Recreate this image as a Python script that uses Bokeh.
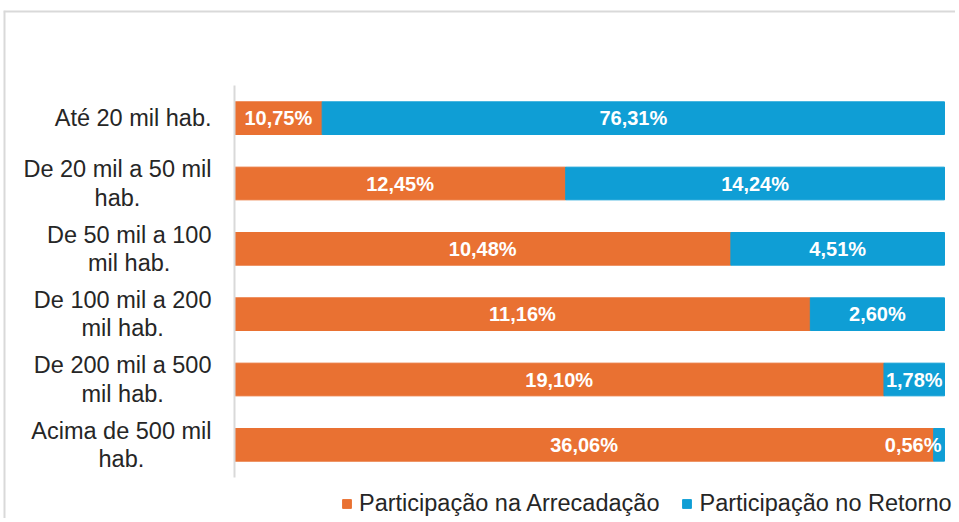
from bokeh.plotting import figure
from bokeh.models import ColumnDataSource, Range1d, Legend, LegendItem, Span
from bokeh.core.properties import value
from bokeh.embed import file_html
from bokeh.resources import INLINE

categories = ["Até 20 mil hab.", "De 20 mil a 50 mil\nhab.", "De 50 mil a 100\nmil hab.",
              "De 100 mil a 200\nmil hab.", "De 200 mil a 500\nmil hab.", "Acima de 500 mil\nhab."]
arrecadacao = [10.75, 12.45, 10.48, 11.16, 19.10, 36.06]
retorno = [76.31, 14.24, 4.51, 2.60, 1.78, 0.56]
series_names = ["Participação na Arrecadação", "Participação no Retorno"]
colors = ["#E97132", "#0F9ED5"]

FONT = "Liberation Sans"
TEXT_COLOR = "#262626"

# layout (pixels)
W, H = 955, 518
FRAME_L, FRAME_T = 3, 10
BAR_X0, BAR_X1 = 234, 944
BAND_T, BAND_B = 85, 477
n = len(categories)
bw = (BAR_X1 - BAR_X0)
bh = (BAND_B - BAND_T) / n

x_start = (FRAME_L - BAR_X0) / bw
x_end = 1 + (W - BAR_X1) / bw
y_top = (FRAME_T - BAND_T) / bh - 0.5
y_bot = (H - BAND_T) / bh - 0.5

tot = [a + r for a, r in zip(arrecadacao, retorno)]
fa = [a / t for a, t in zip(arrecadacao, tot)]
fr = [r / t for r, t in zip(retorno, tot)]
ypos = list(range(n))

def fmt(v):
    return f"{v:.2f}%".replace(".", ",")

src = ColumnDataSource(dict(y=ypos, cat=categories, zero=[0.0] * n, fa=fa, one=[1.0] * n))

p = figure(width=W, height=H, output_backend="svg", toolbar_location=None,
           x_range=Range1d(x_start, x_end), y_range=Range1d(y_bot, y_top),
           min_border_left=FRAME_L, min_border_top=FRAME_T,
           min_border_right=0, min_border_bottom=0)
p.axis.visible = False
p.grid.visible = False
p.outline_line_color = None

r1 = p.hbar(y="y", left="zero", right="fa", height=0.5, color=colors[0], source=src)
r2 = p.hbar(y="y", left="fa", right="one", height=0.5, color=colors[1], source=src)

# category axis line
p.segment(x0=[0], x1=[0], y0=[-0.5], y1=[n - 0.5], line_color="#d9d9d9", line_width=2)

# category labels
p.text(x="zero", y="y", text="cat", source=src, x_offset=-23,
       anchor=value("center_right"), text_align="center", text_baseline="middle",
       text_font=value(FONT), text_font_size="23.5px", text_color=TEXT_COLOR,
       text_line_height=1.1)

# value labels
lx, ly, lt, la, lo = [], [], [], [], []
for k, (a, r, f1, f2) in enumerate(zip(arrecadacao, retorno, fa, fr)):
    lx.append(f1 / 2); ly.append(k); lt.append(fmt(a)); la.append("center"); lo.append(0)
    if f2 > 0.05:
        lx.append(f1 + f2 / 2); la.append("center"); lo.append(0)
    else:
        lx.append(1.0); la.append("right"); lo.append(-3)
    ly.append(k); lt.append(fmt(r))
lsrc = ColumnDataSource(dict(x=lx, y=ly, t=lt, a=la, o=lo))
p.text(x="x", y="y", text="t", text_align="a", x_offset="o", text_baseline="middle",
       text_color="white", text_font=value(FONT), text_font_style="bold",
       text_font_size="20px", source=lsrc)

legend = Legend(items=[LegendItem(label=series_names[0], renderers=[r1]),
                       LegendItem(label=series_names[1], renderers=[r2])],
                orientation="horizontal", location=(BAR_X0 + 107 - FRAME_L, 1),
                label_text_font=FONT, label_text_font_size="23.5px", label_text_color=TEXT_COLOR,
                glyph_width=11, glyph_height=11, label_standoff=7, spacing=22,
                padding=0, margin=0, border_line_color=None, background_fill_alpha=0)
p.add_layout(legend, "center")

# chart-area border (top and left edges)
p.add_layout(Span(location=x_start, dimension="height", line_color="#d9d9d9", line_width=4))
p.add_layout(Span(location=y_top, dimension="width", line_color="#d9d9d9", line_width=4))

open("out.html", "w").write(file_html(p, INLINE))
